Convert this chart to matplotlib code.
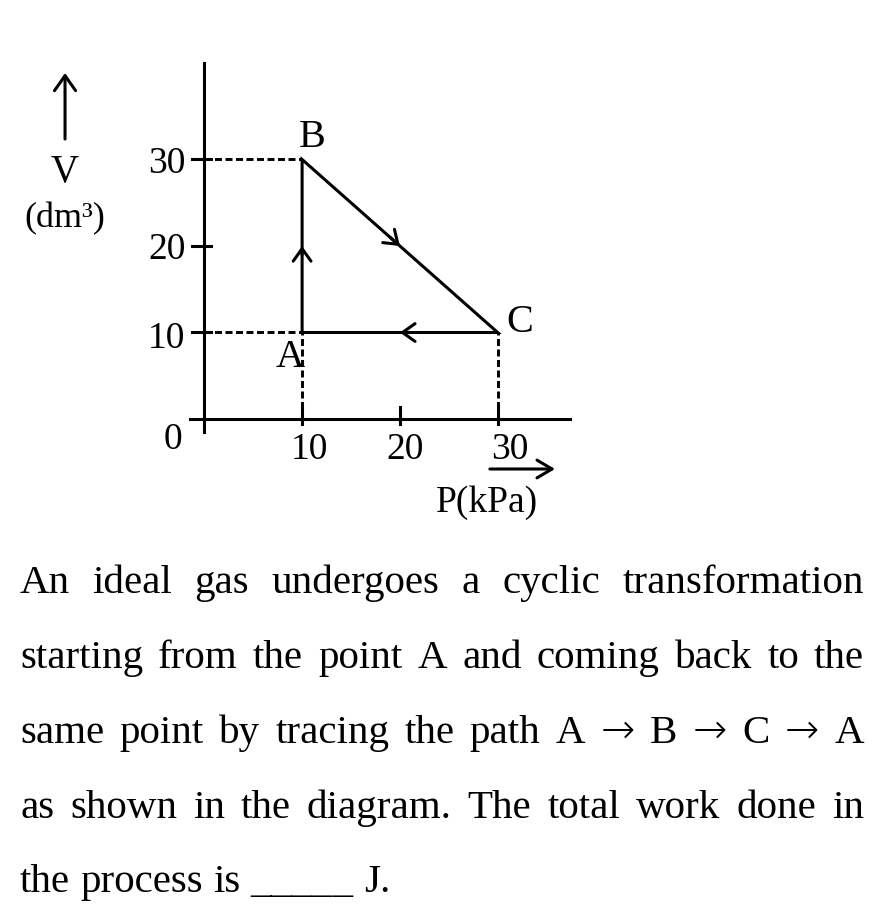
import numpy as np
import matplotlib.pyplot as plt

plt.rcParams['font.family'] = ['Liberation Serif', 'DejaVu Serif']

# cycle A -> B -> C -> A, P in kPa, V in dm^3
labels = ['A', 'B', 'C']
P = [10, 10, 30]
V = [10, 30, 10]
ticks = [10, 20, 30]

question = [
    'An ideal gas undergoes a cyclic transformation',
    'starting from the point A and coming back to the',
    'same point by tracing the path A \u2192 B \u2192 C \u2192 A',
    'as shown in the diagram. The total work done in',
    'the process is _____ J.',
]

W, H = 886, 918
fig = plt.figure(figsize=(W / 100, H / 100), dpi=100)
ax = fig.add_axes([150 / W, 1 - 470 / H, 450 / W, 430 / H])
ax.set_xlim(-5.552, 40.46)
ax.set_ylim(-5.896, 43.815)
ax.axis('off')

lw = 2.2
dash = (0, (2.4, 1.2))

####################### axes, ticks, tick labels ######################
ax.plot([-1.46, 37.4], [0, 0], color='k', lw=lw, clip_on=False)
ax.plot([0, 0], [-1.5, 41.2], color='k', lw=lw, clip_on=False)
for t in ticks:
    ax.plot([-1.3, 0.7], [t, t], color='k', lw=lw)
    ax.plot([t, t], [-0.6, 1.4], color='k', lw=lw)

tick_fs = 27
for t, dx in zip(ticks, [5.5, 3.6, 8.6]):
    ax.annotate(str(t), (t, 0), xytext=(dx, -22), textcoords='offset points',
                ha='center', va='center', fontsize=tick_fs)
for t, dy in zip(ticks, [-4.5, -3, -3.2]):
    ax.annotate(str(t), (0, t), xytext=(-13.5, dy), textcoords='offset points',
                ha='right', va='center', fontsize=tick_fs)
ax.annotate('0', (0, 0), xytext=(-22.5, -15), textcoords='offset points',
            ha='center', va='center', fontsize=tick_fs)

####################### cycle path ######################
Pc = P + [P[0]]
Vc = V + [V[0]]
ax.plot(Pc, Vc, color='k', lw=lw, solid_joinstyle='miter')

# dashed guides to the axes
ax.plot([0, P[1]], [V[1], V[1]], color='k', lw=2.1, linestyle=dash)
ax.plot([0, P[0]], [V[0], V[0]], color='k', lw=2.1, linestyle=dash)
ax.plot([P[0], P[0]], [0, V[0]], color='k', lw=2.1, linestyle=dash)
ax.plot([P[2], P[2]], [0, V[2]], color='k', lw=2.1, linestyle=dash)

# direction chevrons at mid-segment
for i in range(3):
    p0, v0, p1, v1 = Pc[i], Vc[i], Pc[i + 1], Vc[i + 1]
    pm, vm = (p0 + p1) / 2, (v0 + v1) / 2
    ax.annotate('', xy=(pm, vm), xytext=(pm - (p1 - p0) * 0.05, vm - (v1 - v0) * 0.05),
                arrowprops=dict(arrowstyle='->,head_length=0.45,head_width=0.32',
                                lw=lw, color='k', mutation_scale=20,
                                shrinkA=0, shrinkB=0))

label_offsets = {'A': (-8.6, -24.8, 'center'),
                 'B': (7, 9, 'center'),
                 'C': (6.5, 0, 'left')}
for name, p, v in zip(labels, P, V):
    dx, dy, ha = label_offsets[name]
    ax.annotate(name, (p, v), xytext=(dx, dy), textcoords='offset points',
                ha=ha, va='baseline', fontsize=29)

####################### axis labels ######################
ax.annotate('', xy=(35.86, -5.78), xytext=(29.2, -5.78), annotation_clip=False,
            arrowprops=dict(arrowstyle='->,head_length=0.54,head_width=0.32',
                            lw=lw, color='k', mutation_scale=20, shrinkA=0, shrinkB=0))
ax.annotate('P(kPa)', (28.93, -10.75), ha='center', va='baseline', fontsize=27,
            annotation_clip=False)

ax.annotate('', xy=(-14.24, 40.0), xytext=(-14.24, 32.37), annotation_clip=False,
            arrowprops=dict(arrowstyle='->,head_length=0.54,head_width=0.38',
                            lw=lw, color='k', mutation_scale=20, shrinkA=0, shrinkB=0))
ax.annotate('V', (-14.24, 27.4), ha='center', va='baseline', fontsize=28,
            annotation_clip=False)
ax.annotate('(dm\u00b3)', (-14.24, 22.2), ha='center', va='baseline', fontsize=26,
            annotation_clip=False)

####################### question text (justified) ######################
renderer = fig.canvas.get_renderer()
left, right = 20, 864
baselines = [593, 668, 743, 818, 892]
fs = 29.5
for k, (line, yb) in enumerate(zip(question, baselines)):
    words = line.split(' ')
    texts = []
    for w in words:
        fam = ['DejaVu Sans'] if w == '\u2192' else None
        texts.append(fig.text(0, 1 - yb / H, w, fontsize=fs, va='baseline',
                              family=fam, fontweight='light' if fam else None))
    widths = [t.get_window_extent(renderer).width for t in texts]
    if k < len(question) - 1:
        gap = (right - left - sum(widths)) / (len(words) - 1)
    else:
        gap = 0.25 * fs * 100 / 72
    x = left
    for t, w in zip(texts, widths):
        t.set_x(x / W)
        x += w + gap

fig.savefig('out.png', dpi=100)
